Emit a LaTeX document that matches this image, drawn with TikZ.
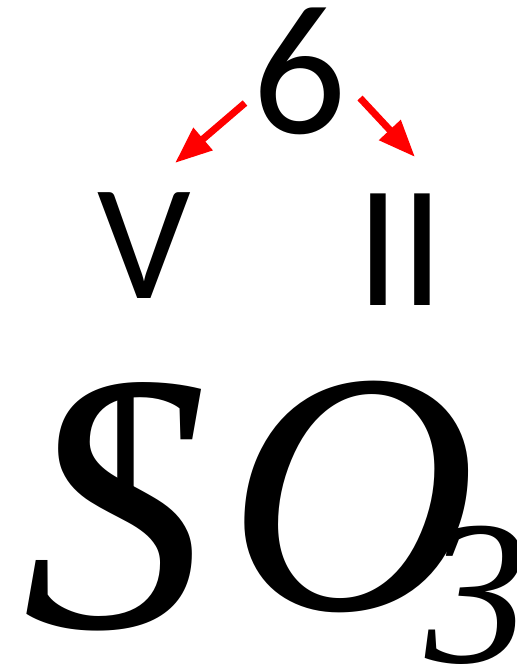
\documentclass[tikz,border=0pt]{standalone}
\usepackage{fontspec}
\usetikzlibrary{arrows.meta, positioning}
\newfontfamily\calfont{Carlito}
\newfontfamily\serfont{Liberation Serif}
\newfontfamily\arialfont{Liberation Sans}
\definecolor{marrow}{HTML}{FF0000}
\newcommand{\fsz}[1]{\fontsize{#1pt}{#1pt}\selectfont}
\tikzset{
  glyph/.style={inner sep=0pt, outer sep=0pt, anchor=base, text=black},
  arr/.style={-{Triangle[length=37pt, width=28pt]}, line width=7pt, marrow},
}
\begin{document}
\begin{tikzpicture}[x=1pt, y=-1pt]
  \useasboundingbox (0,0) rectangle (517,670);

  \node[glyph, font=\calfont\fsz{186}] (six) at (300,133) {6};
  \node[glyph, font=\calfont\fsz{165}] (five) at (144.5,298) {V};
  \node[glyph, font=\calfont\fsz{174}] (two) at (400.5,305) {II};

  \coordinate (lstart) at (245,103);
  \coordinate (ltip) at (175,163);
  \coordinate (rstart) at (360,98);
  \coordinate (rtip) at (415,157);
  \draw[arr] (lstart) -- (ltip);
  \draw[arr] (rstart) -- (rtip);

  \node[glyph, font=\arialfont\fsz{176}] (bar) at (126,516) {I};
  \node[glyph, font=\serfont\itshape\fsz{370}] (sulf) at (115,627) {S};
  \node[glyph, font=\serfont\itshape\fsz{345}] (oxy) at (352,609) {O};
  \node[glyph, font=\serfont\itshape\fsz{206}] (three) at (477,662) {3};
\end{tikzpicture}
\end{document}
